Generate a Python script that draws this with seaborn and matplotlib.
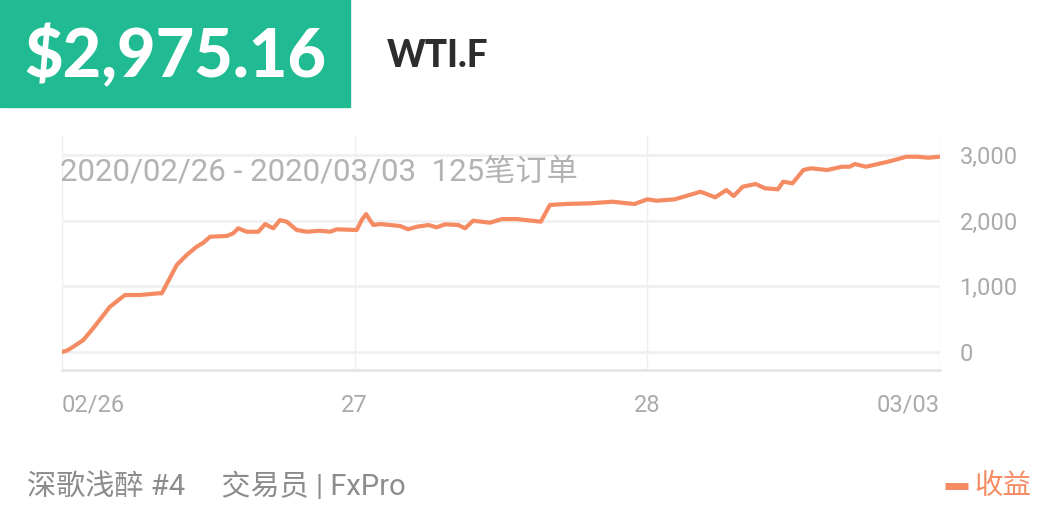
import pandas as pd
import seaborn as sns
import matplotlib.pyplot as plt
from matplotlib.patches import Rectangle
from matplotlib.lines import Line2D

# equity curve, x in trading-day units from 02/26
day = [0.000, 0.016, 0.039, 0.073, 0.107, 0.164, 0.215, 0.266, 0.329, 0.341,
       0.392, 0.426, 0.460, 0.483, 0.506, 0.563, 0.585, 0.602, 0.631, 0.671,
       0.694, 0.711, 0.722, 0.745, 0.768, 0.802, 0.836, 0.881, 0.916, 0.939,
       1.007, 1.024, 1.039, 1.052, 1.064, 1.087, 1.155, 1.183, 1.212, 1.252,
       1.280, 1.309, 1.354, 1.377, 1.405, 1.462, 1.503, 1.554, 1.636, 1.667,
       1.717, 1.805, 1.881, 1.956, 2.000, 2.031, 2.094, 2.182, 2.232, 2.270,
       2.295, 2.326, 2.370, 2.402, 2.446, 2.464, 2.496, 2.533, 2.559, 2.615,
       2.665, 2.691, 2.709, 2.747, 2.822, 2.885, 2.923, 2.960, 3.000]
profit = [0, 20, 81, 183, 365, 690, 868, 868, 894, 894,
          1325, 1477, 1604, 1665, 1756, 1767, 1808, 1884, 1832, 1832,
          1949, 1908, 1884, 2010, 1984, 1858, 1832, 1847, 1832, 1869,
          1858, 2010, 2101, 2010, 1934, 1949, 1919, 1869, 1908, 1934,
          1899, 1945, 1934, 1884, 2000, 1969, 2025, 2025, 1985, 2239,
          2254, 2265, 2289, 2254, 2326, 2304, 2326, 2441, 2356, 2467,
          2376, 2518, 2559, 2493, 2478, 2594, 2569, 2772, 2798, 2772,
          2822, 2822, 2863, 2822, 2898, 2974, 2974, 2959, 2975.16]

x_ticks = [0, 1, 2, 3]
x_labels = ['02/26', '27', '28', '03/03']
y_ticks = [0, 1000, 2000, 3000]

total = '$2,975.16'
symbol = 'WTI.F'
subtitle = '2020/02/26 - 2020/03/03  125笔订单'
trader = '深歌浅醉 #4     交易员 | FxPro'
legend_label = '收益'

line_color = '#f58b63'
green = '#21bb93'
grid_color = '#efefef'

df = pd.DataFrame({'day': day, 'profit': profit})

sns.set_theme(style='white')
plt.rcParams['font.family'] = ['Roboto', 'Noto Sans CJK SC', 'DejaVu Sans']

fig = plt.figure(figsize=(10.55, 5.27), dpi=100)
ax = fig.add_axes([62 / 1055, 1 - 370 / 527, (940 - 62) / 1055, (370 - 136) / 527])

sns.lineplot(data=df, x='day', y='profit', ax=ax, color=line_color,
             linewidth=3.0, zorder=3)

ax.set_xlim(0, 3)
ax.set_ylim(-274, 3290)
ax.set_xticks(x_ticks)
ax.set_xticklabels(x_labels)
ax.set_yticks(y_ticks)
ax.set_yticklabels([f'{v:,}' for v in y_ticks])
ax.yaxis.tick_right()
ax.tick_params(axis='both', length=0, colors='#aaaaaa', labelsize=17)
ax.tick_params(axis='x', pad=17)
ax.tick_params(axis='y', pad=14)
ax.get_xticklabels()[0].set_horizontalalignment('left')
ax.get_xticklabels()[-1].set_horizontalalignment('right')
ax.set_xlabel('')
ax.set_ylabel('')

for v in y_ticks:
    ax.axhline(v, color=grid_color, linewidth=1.8, zorder=1)
for d in x_ticks:
    ax.axvline(d, color=grid_color, linewidth=1.0, zorder=1)
for side in ['top', 'left', 'right']:
    ax.spines[side].set_visible(False)
ax.spines['bottom'].set_color('#e6e6e6')
ax.spines['bottom'].set_linewidth(2)

ax.text(-0.002, 0.845, subtitle, transform=ax.transAxes, fontsize=22.5,
        color='#b3b3b3', va='center', ha='left', zorder=2)

# header block
fig.patches.append(Rectangle((0, 1 - 107 / 527), 350 / 1055, 107 / 527,
                             transform=fig.transFigure, color=green, zorder=0))
fig.text(24 / 1055, 1 - 57 / 527, total, fontsize=48, fontweight='black',
         family=['Lato', 'DejaVu Sans'], color='white', va='center', ha='left')
fig.text(387 / 1055, 1 - 56 / 527, symbol, fontsize=26.5, fontweight='black',
         family=['Lato', 'DejaVu Sans'], color='#2d2d2d', va='center', ha='left')

# footer
fig.text(27 / 1055, 1 - 487 / 527, trader, fontsize=21, color='#8c8c8c',
         va='center', ha='left')
fig.lines.append(Line2D([945 / 1055, 968 / 1055], [1 - 486 / 527, 1 - 486 / 527],
                        transform=fig.transFigure, color=line_color, linewidth=5,
                        solid_capstyle='butt'))
fig.text(974 / 1055, 1 - 487 / 527, legend_label, fontsize=20.5, color=line_color,
         va='center', ha='left')

fig.savefig('out.png', dpi=100)
